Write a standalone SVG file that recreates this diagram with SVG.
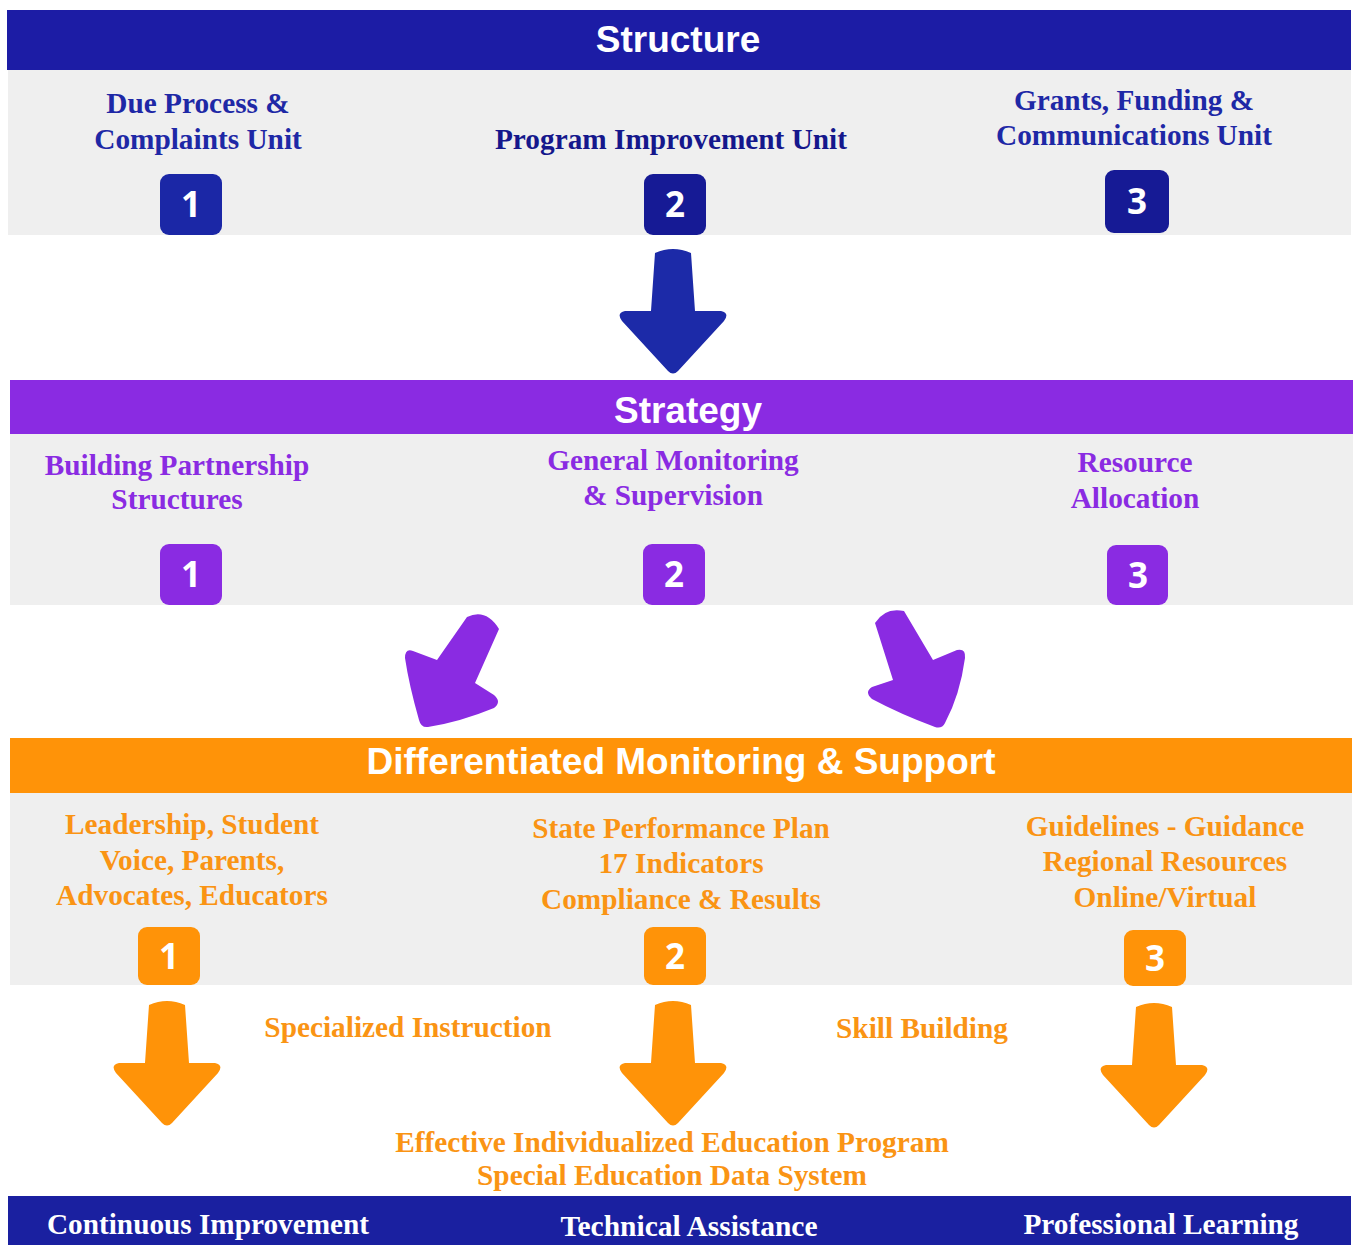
<svg xmlns="http://www.w3.org/2000/svg" width="1354" height="1245" viewBox="0 0 1354 1245">
<defs>
<style>
.hdr{font-family:"Liberation Sans",Arial,sans-serif;font-weight:bold;font-size:37px;fill:#fff;text-anchor:middle}
.lbl{font-family:"Liberation Serif","Times New Roman",serif;font-weight:bold;font-size:29.3px;text-anchor:middle}
.blue{fill:#1E28A6}
.purple{fill:#8A2BE2}
.orange{fill:#FA9414}
.num{font-family:"Open Sans",sans-serif;font-weight:bold;font-size:35px;fill:#fff;text-anchor:middle}
.bot{font-family:"Liberation Serif","Times New Roman",serif;font-weight:bold;font-size:30px;fill:#fff;text-anchor:middle}
.panel{fill:#EFEFEF}
</style>
<path id="arr" d="M -18,-58 Q 0,-66 18,-58 L 22,0 L 48,0 Q 57,2 51,10 L 5,60 Q 0,65 -5,60 L -51,10 Q -57,2 -48,0 L -22,0 Z"/>
</defs>
<rect width="1354" height="1245" fill="#fff"/>

<g id="structure">
<rect x="7" y="10" width="1344" height="60" fill="#1C1CA5"/>
<text class="hdr" x="678" y="52">Structure</text>
<rect class="panel" x="8" y="70" width="1343" height="165"/>
</g>
<g id="s1">
<text class="lbl blue" x="198" y="113">Due Process &amp;</text>
<text class="lbl blue" x="198" y="149">Complaints Unit</text>
<rect x="160" y="174" width="62" height="61" rx="9" fill="#1B27A6"/>
<text class="num" x="191" y="217">1</text>
</g>
<g id="s2">
<text class="lbl" fill="#15178C" x="671" y="149">Program Improvement Unit</text>
<rect x="644" y="174" width="62" height="61" rx="9" fill="#161A95"/>
<text class="num" x="675" y="217">2</text>
</g>
<g id="s3">
<text class="lbl blue" x="1134" y="110">Grants, Funding &amp;</text>
<text class="lbl blue" x="1134" y="145">Communications Unit</text>
<rect x="1105" y="170" width="64" height="63" rx="9" fill="#161A95"/>
<text class="num" x="1137" y="214">3</text>
</g>

<g id="strategy">
<rect x="10" y="380" width="1343" height="54" fill="#8A2BE2"/>
<text class="hdr" x="688" y="423">Strategy</text>
<rect class="panel" x="10" y="434" width="1343" height="171"/>
</g>
<g id="t1">
<text class="lbl purple" x="177" y="475">Building Partnership</text>
<text class="lbl purple" x="177" y="509">Structures</text>
<rect x="160" y="544" width="62" height="61" rx="9" fill="#8A2BE2"/>
<text class="num" x="191" y="587">1</text>
</g>
<g id="t2">
<text class="lbl purple" x="673" y="470">General Monitoring</text>
<text class="lbl purple" x="673" y="505">&amp; Supervision</text>
<rect x="643" y="544" width="62" height="61" rx="9" fill="#8A2BE2"/>
<text class="num" x="674" y="587">2</text>
</g>
<g id="t3">
<text class="lbl purple" x="1135" y="472">Resource</text>
<text class="lbl purple" x="1135" y="508">Allocation</text>
<rect x="1107" y="545" width="61" height="60" rx="9" fill="#8A2BE2"/>
<text class="num" x="1138" y="588">3</text>
</g>

<g id="dms">
<rect x="10" y="738" width="1342" height="55" fill="#FF9308"/>
<text class="hdr" x="681" y="774">Differentiated Monitoring &amp; Support</text>
<rect class="panel" x="10" y="793" width="1342" height="192"/>
</g>
<g id="d1">
<text class="lbl orange" x="192" y="834">Leadership, Student</text>
<text class="lbl orange" x="192" y="870">Voice, Parents,</text>
<text class="lbl orange" x="192" y="905">Advocates, Educators</text>
<rect x="138" y="927" width="62" height="58" rx="9" fill="#FF9308"/>
<text class="num" x="169" y="969">1</text>
</g>
<g id="d2">
<text class="lbl orange" x="681" y="838">State Performance Plan</text>
<text class="lbl orange" x="681" y="873">17 Indicators</text>
<text class="lbl orange" x="681" y="909">Compliance &amp; Results</text>
<rect x="644" y="927" width="62" height="58" rx="9" fill="#FF9308"/>
<text class="num" x="675" y="969">2</text>
</g>
<g id="d3">
<text class="lbl orange" x="1165" y="836">Guidelines - Guidance</text>
<text class="lbl orange" x="1165" y="871">Regional Resources</text>
<text class="lbl orange" x="1165" y="907">Online/Virtual</text>
<rect x="1124" y="930" width="62" height="56" rx="9" fill="#FF9308"/>
<text class="num" x="1155" y="971">3</text>
</g>

<g id="connectors">
<use href="#arr" transform="translate(673,311)" fill="#1C2AA8"/>
<path fill="#8A2BE2" d="M 467,617 Q 486,608 499,629 L 475,683 L 494,695 Q 502,702 494,708 Q 460,722 428,727 Q 421,728 419,720 Q 409,685 405,658 Q 405,648 413,651 L 437,660 Z"/>
<path fill="#8A2BE2" d="M 875,623 Q 885,607 904,611 L 933,660 L 957,650 Q 966,648 965,658 Q 960,695 945,723 Q 942,729 935,727 Q 900,714 872,699 Q 864,692 872,687 L 893,680 Z"/>
<use href="#arr" transform="translate(167,1063)" fill="#FF9308"/>
<use href="#arr" transform="translate(673,1063)" fill="#FF9308"/>
<use href="#arr" transform="translate(1154,1065)" fill="#FF9308"/>
<text class="lbl orange" x="408" y="1037">Specialized Instruction</text>
<text class="lbl orange" x="922" y="1038">Skill Building</text>
<text class="lbl orange" x="672" y="1152">Effective Individualized Education Program</text>
<text class="lbl orange" x="672" y="1185">Special Education Data System</text>
</g>

<g id="bottom">
<rect x="8" y="1196" width="1343" height="49" fill="#1A20A0"/>
<text class="bot" x="208" y="1234" textLength="322" lengthAdjust="spacingAndGlyphs">Continuous Improvement</text>
<text class="bot" x="689" y="1236" textLength="257" lengthAdjust="spacingAndGlyphs">Technical Assistance</text>
<text class="bot" x="1161" y="1234" textLength="275" lengthAdjust="spacingAndGlyphs">Professional Learning</text>
</g>
</svg>
